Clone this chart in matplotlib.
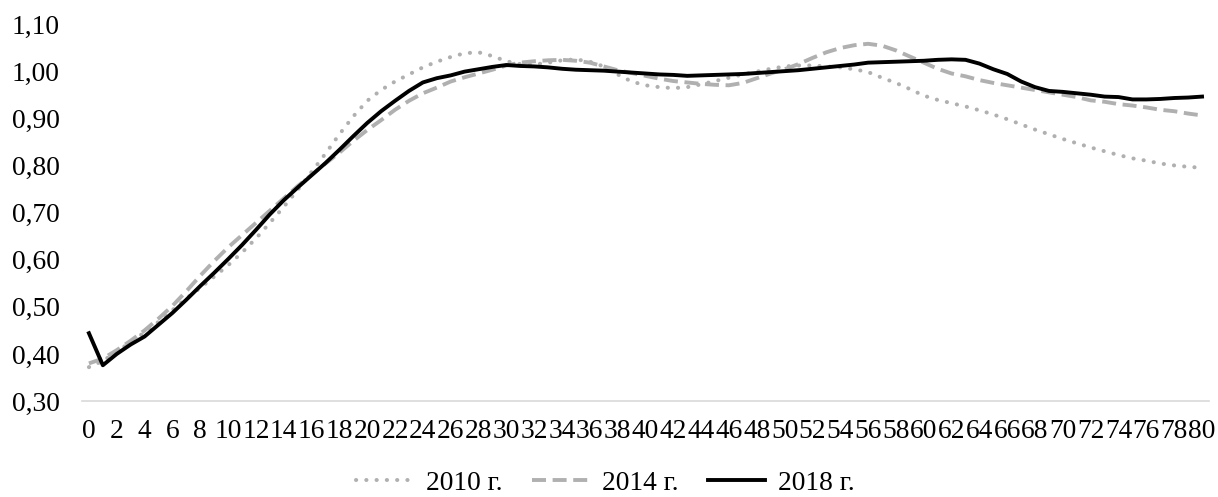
import numpy as np
import matplotlib
matplotlib.use("Agg")
import matplotlib.pyplot as plt
from matplotlib.ticker import FuncFormatter

# =====================================================
# Data
# =====================================================
ages = list(range(0, 81))

y2010 = [
    0.372, 0.385, 0.405, 0.425, 0.446, 0.468, 0.493, 0.518, 0.540, 0.564,
    0.588, 0.615, 0.645, 0.678, 0.712, 0.748, 0.786, 0.825, 0.866, 0.904,
    0.937, 0.960, 0.978, 0.993, 1.008, 1.020, 1.030, 1.038, 1.040, 1.032,
    1.021, 1.015, 1.014, 1.018, 1.023, 1.025, 1.020, 1.010, 0.993, 0.978,
    0.970, 0.966, 0.964, 0.966, 0.972, 0.979, 0.986, 0.993, 0.999, 1.005,
    1.010, 1.012, 1.012, 1.010, 1.008, 1.004, 0.998, 0.986, 0.975, 0.962,
    0.948, 0.939, 0.932, 0.925, 0.917, 0.908, 0.898, 0.887, 0.876, 0.866,
    0.856, 0.847, 0.838, 0.830, 0.822, 0.815, 0.810, 0.804, 0.800, 0.797,
    0.795,
]

y2014 = [
    0.380, 0.390, 0.408, 0.428, 0.450, 0.475, 0.502, 0.533, 0.566, 0.597,
    0.626, 0.652, 0.678, 0.704, 0.730, 0.756, 0.780, 0.804, 0.827, 0.852,
    0.875, 0.896, 0.918, 0.937, 0.953, 0.965, 0.978, 0.987, 0.995, 1.003,
    1.012, 1.018, 1.021, 1.023, 1.024, 1.022, 1.018, 1.010, 1.002, 0.996,
    0.990, 0.984, 0.979, 0.976, 0.973, 0.971, 0.970, 0.975, 0.985, 0.995,
    1.004, 1.015, 1.028, 1.040, 1.049, 1.055, 1.058, 1.054, 1.044, 1.031,
    1.018, 1.005, 0.995, 0.989, 0.981, 0.975, 0.970, 0.965, 0.960, 0.955,
    0.950, 0.945, 0.938, 0.935, 0.930, 0.927, 0.923, 0.918, 0.915, 0.910,
    0.906,
]

y2018 = [
    0.444, 0.376, 0.400, 0.420, 0.437, 0.462, 0.487, 0.515, 0.544, 0.572,
    0.601, 0.631, 0.663, 0.696, 0.726, 0.753, 0.779, 0.805, 0.833, 0.862,
    0.890, 0.915, 0.937, 0.958, 0.976, 0.985, 0.991, 0.999, 1.004, 1.009,
    1.013, 1.011, 1.010, 1.008, 1.005, 1.003, 1.002, 1.001, 0.999, 0.997,
    0.995, 0.993, 0.992, 0.990, 0.991, 0.992, 0.993, 0.994, 0.996, 0.998,
    1.000, 1.002, 1.005, 1.008, 1.011, 1.014, 1.018, 1.019, 1.020, 1.021,
    1.022, 1.024, 1.025, 1.024, 1.016, 1.004, 0.994, 0.978, 0.966, 0.958,
    0.956, 0.953, 0.950, 0.946, 0.945, 0.940, 0.940, 0.941, 0.943, 0.944,
    0.946,
]

labels = ["2010 г.", "2014 г.", "2018 г."]
xtick_values = list(range(0, 81, 2))
ytick_values = [0.30, 0.40, 0.50, 0.60, 0.70, 0.80, 0.90, 1.00, 1.10]

# =====================================================
# Plot
# =====================================================
plt.rcParams["font.family"] = ["Liberation Serif", "DejaVu Serif"]
fs = 19.8

fig = plt.figure(figsize=(12.18, 4.97), dpi=100)
ax = fig.add_axes([0.0673, 0.193, 0.9253, 0.7587])

ax.plot(ages, y2010, color="#b0b0b0", lw=2.9, linestyle=(0, (0.05, 2.5)),
        dash_capstyle="round", label=labels[0])
ax.plot(ages, y2014, color="#b0b0b0", lw=2.8, linestyle=(0, (3.6, 1.7)),
        label=labels[1])
ax.plot(ages, y2018, color="black", lw=2.8, label=labels[2])

ax.set_xlim(-0.5, 80.5)
ax.set_ylim(0.30, 1.10)
ax.set_xticks(xtick_values)
ax.set_xticklabels([str(v) for v in xtick_values])
ax.set_yticks(ytick_values)
ax.yaxis.set_major_formatter(FuncFormatter(lambda v, p: f"{v:.2f}".replace(".", ",")))
ax.tick_params(axis="both", length=0, labelsize=fs, colors="black")
ax.tick_params(axis="x", pad=13)
ax.tick_params(axis="y", pad=16)

for side in ["top", "right", "left"]:
    ax.spines[side].set_visible(False)
ax.spines["bottom"].set_color("#d9d9d9")
ax.spines["bottom"].set_linewidth(1.2)

fig.legend(loc="center", bbox_to_anchor=(0.497, 0.028), ncol=3, frameon=False,
           handlelength=2.1, handletextpad=0.45, columnspacing=1.05, fontsize=fs)

fig.savefig("out.png", dpi=100)
